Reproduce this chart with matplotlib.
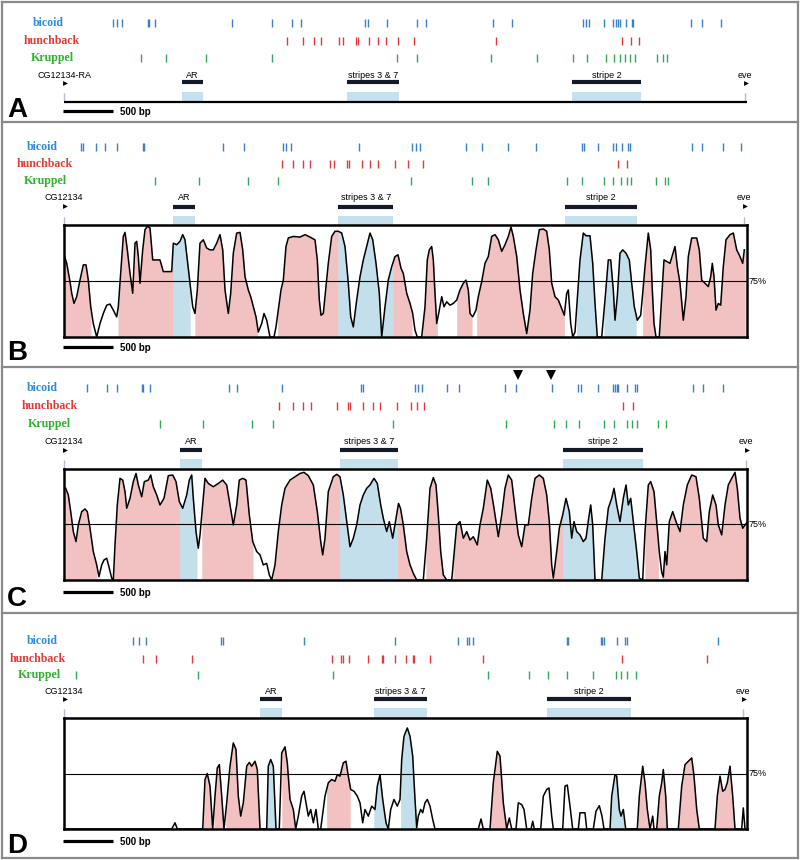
import numpy as np
import matplotlib.pyplot as plt
from matplotlib.patches import Rectangle
from matplotlib.lines import Line2D
import matplotlib.transforms as mtransforms

# all positions in bp, counted from the CG12134 start
REGION_NAMES = ["AR", "stripes 3 & 7", "stripe 2"]

A_bicoid = [493, 527, 577, 837, 850, 910, 1680, 2080, 2280, 2370, 3010, 3040, 3230, 3530, 3620,
            4290, 4480, 5190, 5220, 5250, 5400, 5490, 5520, 5540, 5560, 5620, 5680, 5690, 6270,
            6380, 6570]
A_hunchback = [2230, 2390, 2500, 2570, 2750, 2790, 2920, 2940, 3050, 3140, 3220, 3340, 3500, 4320,
               5580, 5670, 5750]
A_kruppel = [770, 1020, 1420, 2080, 3330, 3530, 4270, 4730, 5090, 5230, 5420, 5500, 5560, 5610,
             5660, 5710, 5930, 5990, 6030]
A_regions = [(1177, 1387), (2830, 3350), (5077, 5770)]
A_eve = 6810

B_bicoid = [170, 190, 320, 410, 530, 790, 800, 1590, 1800, 2190, 2220, 2270, 2950, 3480, 3520,
            3560, 4020, 4180, 4440, 4720, 5180, 5200, 5340, 5490, 5520, 5580, 5640, 5660, 6280,
            6380, 6590, 6770]
B_hunchback = [2180, 2290, 2390, 2460, 2660, 2700, 2830, 2850, 2980, 3060, 3140, 3310, 3440, 3590,
               5540, 5630]
B_kruppel = [910, 1350, 1840, 2140, 3470, 4080, 4240, 5030, 5180, 5400, 5490, 5570, 5630, 5670,
             5920, 6010, 6040]
B_regions = [(1093, 1310), (2743, 3293), (5010, 5727)]
B_eve = 6800
B_conserved = [(0, 267), (543, 1260), (1310, 1933), (2137, 3477), (3587, 3733), (3927, 4077),
               (4127, 5003), (5127, 5320), (5400, 5720), (5787, 5910), (5960, 6810)]
B_profile = [
    (0, 86.7), (27, 82.9), (60, 74.7), (77, 69.5), (100, 65.0), (127, 68.0), (160, 75.4),
    (193, 82.2), (220, 82.2), (243, 75.4), (267, 63.5), (293, 56.0), (327, 50.0), (360, 56.0),
    (393, 60.5), (427, 64.2), (460, 64.7), (493, 62.0), (527, 59.0), (543, 63.5), (560, 74.0),
    (593, 94.9), (610, 96.7), (633, 88.9), (660, 78.4), (687, 69.5), (710, 91.9), (727, 92.7),
    (743, 85.9), (760, 74.0), (787, 88.9), (810, 97.9), (833, 99.4), (860, 98.7), (887, 84.4),
    (927, 84.4), (960, 84.4), (993, 79.2), (1027, 79.2), (1077, 79.2), (1093, 91.9), (1127, 91.2),
    (1160, 92.7), (1187, 95.7), (1210, 93.4), (1233, 84.4), (1260, 74.0), (1287, 63.5),
    (1310, 60.5), (1333, 71.0), (1360, 91.9), (1393, 93.4), (1427, 89.7), (1460, 88.9),
    (1493, 88.9), (1527, 91.9), (1560, 95.7), (1587, 88.9), (1610, 71.0), (1643, 60.5),
    (1667, 69.5), (1693, 87.4), (1727, 96.4), (1760, 96.7), (1787, 88.9), (1810, 76.9),
    (1843, 71.0), (1867, 68.0), (1893, 63.5), (1920, 59.0), (1943, 52.2), (1977, 56.0),
    (2000, 60.5), (2027, 57.5), (2060, 50.0), (2100, 50.0), (2120, 54.5), (2143, 62.0),
    (2170, 71.0), (2193, 75.4), (2220, 90.4), (2243, 94.2), (2293, 94.9), (2360, 94.6),
    (2410, 95.7), (2460, 94.6), (2510, 93.4), (2533, 84.4), (2553, 66.5), (2570, 59.7),
    (2593, 60.5), (2620, 72.5), (2643, 82.9), (2677, 94.9), (2710, 97.2), (2743, 97.2),
    (2777, 96.4), (2810, 90.4), (2843, 74.0), (2867, 59.0), (2893, 54.5), (2927, 66.5),
    (2960, 76.9), (2993, 84.4), (3027, 90.4), (3060, 96.4), (3087, 93.4), (3120, 82.9),
    (3153, 69.5), (3177, 50.0), (3210, 63.5), (3243, 75.4), (3277, 81.4), (3310, 85.9),
    (3340, 86.7), (3370, 80.7), (3393, 78.4), (3427, 69.5), (3460, 65.0), (3487, 60.5),
    (3510, 53.0), (3533, 50.0), (3577, 50.0), (3610, 63.5), (3633, 84.4), (3653, 88.9),
    (3677, 90.4), (3693, 84.4), (3710, 69.5), (3727, 56.0), (3753, 62.0), (3777, 68.0),
    (3800, 63.5), (3827, 65.7), (3860, 64.2), (3893, 65.0), (3927, 66.5), (3960, 71.0),
    (3993, 74.0), (4020, 75.4), (4043, 71.0), (4060, 60.5), (4087, 59.0), (4120, 62.0),
    (4143, 68.0), (4177, 74.7), (4210, 82.9), (4243, 85.9), (4277, 94.9), (4310, 95.7),
    (4343, 93.4), (4377, 88.2), (4410, 91.2), (4443, 94.9), (4470, 99.1), (4493, 94.9),
    (4527, 85.9), (4560, 71.0), (4593, 60.5), (4627, 51.5), (4660, 62.0), (4687, 78.4),
    (4720, 88.9), (4753, 97.9), (4793, 98.2), (4827, 97.2), (4853, 88.9), (4877, 74.0),
    (4910, 68.0), (4943, 66.5), (4970, 63.5), (5003, 59.7), (5027, 69.5), (5043, 71.0),
    (5067, 56.0), (5087, 50.0), (5110, 52.2), (5137, 69.5), (5160, 84.4), (5193, 96.4),
    (5220, 95.2), (5260, 95.2), (5287, 82.9), (5310, 65.0), (5333, 50.0), (5377, 50.0),
    (5410, 66.5), (5443, 84.4), (5467, 84.4), (5493, 71.0), (5510, 57.5), (5533, 68.0),
    (5560, 87.4), (5587, 88.9), (5620, 87.4), (5653, 84.4), (5677, 74.0), (5703, 63.5),
    (5733, 57.5), (5767, 59.7), (5787, 69.5), (5810, 81.4), (5843, 96.4), (5867, 88.9),
    (5883, 71.0), (5900, 56.0), (5920, 50.0), (5953, 50.0), (5977, 68.0), (6000, 84.4),
    (6027, 83.7), (6060, 82.9), (6110, 90.4), (6133, 81.4), (6160, 74.0), (6193, 57.5),
    (6220, 68.0), (6243, 85.9), (6277, 94.2), (6327, 94.2), (6353, 88.9), (6377, 75.4),
    (6410, 74.0), (6443, 72.5), (6467, 76.9), (6483, 82.9), (6500, 76.9), (6520, 62.0),
    (6543, 65.0), (6567, 64.2), (6593, 81.4), (6620, 93.4), (6660, 95.7), (6693, 96.4),
    (6727, 88.9), (6760, 85.9), (6787, 82.9), (6803, 88.9)]

C_bicoid = [227, 427, 527, 777, 793, 860, 1653, 1733, 2177, 2970, 2987, 3510, 3543, 3577, 3827,
            3950, 4410, 4517, 4877, 5143, 5167, 5343, 5493, 5510, 5527, 5543, 5627, 5710, 5727,
            6293, 6393, 6587]
C_hunchback = [2153, 2287, 2393, 2467, 2733, 2843, 2860, 2993, 3093, 3160, 3327, 3467, 3533, 3603,
               5593, 5693]
C_kruppel = [960, 1387, 1877, 2087, 3293, 4420, 4903, 5017, 5150, 5400, 5500, 5627, 5677, 5733,
             5943, 6017]
C_regions = [(1160, 1377), (2760, 3337), (4993, 5787)]
C_eve = 6820
C_marked = [4537, 4870]
C_conserved = [(17, 327), (493, 1327), (1380, 1887), (2093, 3510), (3620, 3810), (3893, 4870),
               (4900, 5310), (5377, 5753), (5810, 5943), (5980, 6837)]
C_profile = [
    (17, 91.3), (43, 88.3), (67, 80.8), (93, 71.8), (120, 67.3), (143, 74.8), (177, 80.8),
    (210, 82.0), (233, 80.8), (260, 73.3), (293, 62.8), (327, 56.8), (350, 51.5), (377, 56.8),
    (400, 59.0), (427, 59.8), (453, 55.3), (477, 50.8), (493, 50.0), (510, 65.8), (533, 83.8),
    (560, 95.8), (587, 95.0), (610, 89.8), (627, 82.3), (660, 86.8), (693, 94.3), (720, 98.0),
    (743, 92.8), (777, 87.5), (803, 94.3), (843, 95.0), (867, 97.3), (893, 92.0), (927, 88.3),
    (960, 83.8), (1000, 86.8), (1043, 97.0), (1087, 97.3), (1120, 94.3), (1153, 85.3),
    (1187, 82.3), (1227, 88.3), (1253, 95.0), (1277, 97.3), (1293, 86.8), (1320, 71.8),
    (1343, 64.3), (1360, 70.3), (1387, 83.8), (1410, 95.8), (1443, 93.5), (1493, 92.0),
    (1543, 93.5), (1587, 95.0), (1627, 92.8), (1660, 83.8), (1693, 74.8), (1727, 83.8),
    (1753, 95.0), (1787, 95.8), (1820, 95.0), (1853, 79.3), (1887, 67.3), (1927, 62.8),
    (1960, 61.3), (1993, 56.8), (2027, 57.5), (2053, 52.3), (2077, 50.0), (2110, 56.8),
    (2143, 71.8), (2177, 83.8), (2210, 91.3), (2260, 95.0), (2310, 96.5), (2360, 98.0),
    (2400, 98.5), (2443, 97.0), (2493, 92.8), (2533, 80.8), (2567, 67.3), (2587, 61.3),
    (2610, 68.8), (2643, 89.8), (2693, 96.5), (2727, 97.6), (2760, 96.5), (2793, 88.3),
    (2827, 76.3), (2860, 65.0), (2893, 68.8), (2927, 74.8), (2960, 83.8), (2993, 88.3),
    (3027, 91.3), (3060, 92.8), (3100, 95.8), (3133, 93.5), (3167, 83.8), (3193, 77.8),
    (3227, 71.8), (3253, 76.3), (3287, 68.8), (3320, 77.8), (3345, 84.5), (3365, 82.3),
    (3393, 74.8), (3427, 62.8), (3460, 56.8), (3493, 53.0), (3527, 50.0), (3593, 50.0),
    (3627, 68.8), (3660, 91.3), (3693, 96.1), (3720, 92.8), (3743, 79.3), (3767, 62.8),
    (3793, 52.3), (3827, 50.0), (3877, 50.0), (3900, 61.3), (3927, 74.8), (3960, 76.3),
    (3993, 68.8), (4027, 71.8), (4060, 68.0), (4093, 69.5), (4133, 65.8), (4160, 74.8),
    (4193, 82.3), (4233, 95.0), (4267, 91.3), (4300, 82.3), (4343, 69.5), (4377, 79.3),
    (4410, 91.3), (4443, 97.3), (4477, 95.0), (4510, 82.3), (4543, 70.3), (4577, 65.0),
    (4610, 74.8), (4643, 74.8), (4677, 86.8), (4710, 95.8), (4753, 97.3), (4793, 95.8),
    (4827, 88.3), (4853, 76.3), (4877, 56.8), (4893, 50.8), (4927, 62.8), (4953, 73.3),
    (4987, 79.3), (5020, 86.8), (5053, 80.8), (5077, 68.8), (5100, 76.3), (5127, 71.8),
    (5160, 70.3), (5193, 67.3), (5220, 68.8), (5247, 77.8), (5267, 83.8), (5287, 74.8),
    (5310, 50.0), (5377, 50.0), (5410, 68.8), (5443, 82.3), (5477, 86.8), (5500, 91.3),
    (5527, 83.8), (5560, 76.3), (5593, 86.8), (5620, 92.8), (5643, 83.8), (5667, 86.8),
    (5693, 76.3), (5727, 62.8), (5753, 50.8), (5787, 50.0), (5810, 71.8), (5843, 92.8),
    (5867, 94.3), (5900, 89.8), (5927, 76.3), (5953, 62.8), (5977, 53.5), (5993, 51.3),
    (6010, 62.8), (6027, 56.8), (6053, 76.3), (6087, 80.8), (6120, 76.3), (6160, 71.8),
    (6193, 83.8), (6233, 92.8), (6277, 97.3), (6320, 96.5), (6353, 86.8), (6393, 68.8),
    (6427, 67.3), (6453, 80.8), (6487, 88.3), (6520, 83.8), (6543, 74.8), (6577, 70.3),
    (6610, 83.8), (6643, 92.8), (6677, 95.8), (6710, 98.5), (6733, 91.3), (6760, 77.8),
    (6787, 73.3), (6810, 74.8), (6837, 76.3)]

D_bicoid = [693, 753, 817, 1570, 1587, 2400, 3310, 3943, 4027, 4050, 4093, 5027, 5043, 5367, 5383,
            5400, 5527, 5610, 5627, 6543]
D_hunchback = [793, 920, 1283, 2677, 2767, 2787, 2850, 3043, 3177, 3193, 3310, 3420, 3487, 3503,
               3660, 4187, 5583, 6433]
D_kruppel = [117, 1343, 2693, 4243, 4653, 4843, 5027, 5293, 5520, 5570, 5627, 5717]
D_regions = [(1960, 2177), (3100, 3627), (4827, 5667)]
D_eve = 6790
D_conserved = [(1393, 1487), (1503, 1600), (1620, 1960), (2027, 2120), (2180, 2317), (2627, 2860),
               (3100, 3243), (3367, 3520), (4267, 4427), (5460, 5600), (5743, 5843), (5933, 6033),
               (6143, 6353), (6510, 6710)]
D_profile = [
    (0, 50), (1077, 50), (1110, 52.8), (1133, 50), (1387, 50), (1410, 72.3), (1433, 75.0),
    (1460, 69.3), (1487, 50), (1510, 64.8), (1533, 77.5), (1553, 79.0), (1577, 64.8), (1600, 50),
    (1627, 61.8), (1660, 78.3), (1693, 88.8), (1720, 85.8), (1743, 64.8), (1767, 55.8),
    (1793, 61.8), (1827, 78.3), (1853, 80.0), (1877, 78.3), (1910, 80.5), (1933, 76.8),
    (1960, 50), (2027, 50), (2043, 78.3), (2067, 81.3), (2093, 78.3), (2120, 50), (2153, 50),
    (2177, 84.3), (2210, 87.0), (2233, 79.8), (2260, 63.3), (2293, 58.8), (2317, 50),
    (2343, 55.8), (2377, 64.8), (2400, 67.0), (2420, 61.8), (2443, 55.8), (2467, 58.8),
    (2493, 52.8), (2520, 58.8), (2543, 50), (2567, 50), (2610, 64.8), (2643, 70.8), (2677, 72.3),
    (2710, 71.5), (2733, 74.5), (2760, 73.8), (2793, 79.8), (2820, 80.5), (2843, 73.8),
    (2867, 67.8), (2900, 67.0), (2933, 64.8), (2960, 61.8), (2987, 52.8), (3010, 58.8),
    (3043, 55.8), (3077, 60.3), (3110, 58.8), (3133, 69.3), (3160, 74.5), (3187, 63.3),
    (3220, 52.8), (3243, 50), (3267, 58.8), (3300, 63.3), (3333, 60.3), (3360, 63.3),
    (3377, 81.3), (3400, 91.8), (3433, 95.5), (3460, 91.8), (3487, 82.8), (3510, 63.3),
    (3527, 50.5), (3543, 55.8), (3567, 58.8), (3587, 57.3), (3610, 61.8), (3633, 63.3),
    (3660, 60.3), (3687, 54.3), (3710, 50), (4143, 50), (4170, 54.5), (4193, 50), (4260, 50),
    (4293, 70.8), (4333, 85.0), (4360, 82.8), (4393, 61.8), (4427, 50), (4453, 55.0), (4477, 50),
    (4520, 50), (4543, 61.8), (4577, 61.0), (4600, 58.8), (4627, 50), (4670, 50), (4687, 53.5),
    (4703, 50), (4767, 50), (4793, 64.8), (4827, 67.8), (4850, 68.5), (4877, 55.8), (4893, 50),
    (4987, 50), (5010, 69.3), (5033, 69.8), (5060, 60.3), (5087, 50), (5143, 50), (5160, 57.3),
    (5210, 57.3), (5227, 50), (5293, 50), (5320, 58.0), (5353, 60.5), (5380, 55.8), (5400, 50),
    (5460, 50), (5477, 64.8), (5510, 74.5), (5527, 73.8), (5553, 58.8), (5570, 55.8),
    (5593, 58.8), (5617, 50), (5733, 50), (5753, 64.8), (5787, 78.3), (5810, 70.8), (5833, 58.8),
    (5860, 50), (5887, 55.8), (5900, 50), (5927, 50), (5953, 64.8), (5977, 70.8), (5993, 76.8),
    (6017, 64.8), (6033, 50), (6143, 50), (6177, 69.3), (6210, 79.0), (6243, 80.5), (6277, 82.0),
    (6300, 73.8), (6327, 58.8), (6353, 50), (6510, 50), (6533, 64.8), (6560, 73.8), (6587, 67.0),
    (6610, 67.8), (6633, 70.8), (6660, 78.3), (6687, 64.8), (6710, 50), (6777, 50), (6793, 59.5),
    (6810, 50)]

# ---- styling / layout ----
W, H = 800, 860
BP0, BP_PER_PX = 64, 10          # bp 0 sits at x=64 px, 10 bp per pixel
PLOT_END = 6830
PINK, BLUE = "#f2c2c2", "#c4dfec"
BOXBLUE = "#c6e1ee"
BIC_TXT, HB_TXT, KR_TXT = "#2b8be0", "#e53b35", "#2eb22e"
BIC_TK, HB_TK, KR_TK = "#3a80c4", "#e0393b", "#33a852"
BAR = "#141b27"
SERIF = ["Liberation Serif", "DejaVu Serif"]
SANS = ["Liberation Sans", "DejaVu Sans"]

panels = {
    "A": dict(sites=(A_bicoid, A_hunchback, A_kruppel), regions=A_regions, eve=A_eve,
              gene="CG12134-RA", lab_x=(48, 52, 52), rows=(23, 41, 58), gene_y=75, bar_y=82,
              box=(92, 101), plot=None, scale_y=111, letter_y=117),
    "B": dict(sites=(B_bicoid, B_hunchback, B_kruppel), regions=B_regions, eve=B_eve,
              gene="CG12134", lab_x=(42, 45, 45), rows=(147, 164, 181), gene_y=198, bar_y=207,
              box=(216, 225), plot=(225, 337), scale_y=347, letter_y=360,
              profile=B_profile, conserved=B_conserved),
    "C": dict(sites=(C_bicoid, C_hunchback, C_kruppel), regions=C_regions, eve=C_eve,
              gene="CG12134", lab_x=(42, 50, 49), rows=(388, 406, 424), gene_y=442, bar_y=450,
              box=(459, 469), plot=(469, 580), scale_y=592, letter_y=606,
              profile=C_profile, conserved=C_conserved),
    "D": dict(sites=(D_bicoid, D_hunchback, D_kruppel), regions=D_regions, eve=D_eve,
              gene="CG12134", lab_x=(42, 38, 39), rows=(641, 659, 675), gene_y=691, bar_y=699,
              box=(708, 718), plot=(718, 829), scale_y=841, letter_y=853,
              profile=D_profile, conserved=D_conserved),
}


def bp(px):
    return (px - BP0) * BP_PER_PX


def add_ax(x0, y0, x1, y1):
    return fig.add_axes([x0 / W, 1 - y1 / H, (x1 - x0) / W, (y1 - y0) / H])


def fill_conserved(ax, prof, segs, regions):
    x, y = prof[:, 0], prof[:, 1]
    for s, e in segs:
        cuts = sorted({s, e} | {b for r in regions for b in r if s < b < e})
        for a, b in zip(cuts[:-1], cuts[1:]):
            mid = (a + b) / 2
            inside = any(r0 <= mid <= r1 for r0, r1 in regions)
            xs = np.unique(np.concatenate([[a, b], x[(x > a) & (x < b)]]))
            ax.fill_between(xs, 50, np.interp(xs, x, y), color=BLUE if inside else PINK,
                            lw=0.3, ec=BLUE if inside else PINK, zorder=1)


fig = plt.figure(figsize=(W / 100, H / 100), dpi=100)
ov = fig.add_axes([0, 0, 1, 1])
ov.set_xlim(bp(0), bp(W))
ov.set_ylim(H, 0)
ov.axis("off")

names = ["bicoid", "hunchback", "Kruppel"]
txt_cols = [BIC_TXT, HB_TXT, KR_TXT]
tk_cols = [BIC_TK, HB_TK, KR_TK]

for key, p in panels.items():
    # binding-site tracks
    for name, sites, y, lx, tc, kc in zip(names, p["sites"], p["rows"], p["lab_x"], txt_cols, tk_cols):
        ov.text(bp(lx), y, name, color=tc, family=SERIF, weight="bold", fontsize=8.6,
                ha="center", va="center")
        ov.vlines(sites, y - 4, y + 4, color=kc, lw=1.0)

    # annotated enhancers
    b0, b1 = p["box"]
    for (s, e), nm in zip(p["regions"], REGION_NAMES):
        ov.hlines(p["bar_y"], s, e, color=BAR, lw=3.0)
        ov.text((s + e) / 2, p["gene_y"], nm, family=SANS, fontsize=6.5, ha="center", va="center")
        ov.add_patch(Rectangle((s, b0), e - s, b1 - b0, color=BOXBLUE, lw=0, zorder=1))

    # gene starts
    for gx, gl in [(0, p["gene"]), (p["eve"], "eve")]:
        ov.text(gx, p["gene_y"], gl, family=SANS, fontsize=6.5, ha="center", va="center")
        ov.plot(gx + 12, p["gene_y"] + 8, marker=">", ms=3.5, color="k", mew=0)
        ov.vlines(gx, b0 + 1, b1, color="#b9b9da", lw=1.0)

    # scale bar + panel letter
    ov.hlines(p["scale_y"], -10, 490, color="k", lw=2.3)
    ov.text(560, p["scale_y"] + 1, "500 bp", family=SANS, weight="bold", fontsize=7,
            ha="left", va="center")
    ov.text(bp(7), p["letter_y"], key, family=SANS, weight="bold", fontsize=20,
            ha="left", va="baseline")

    if p["plot"] is None:
        ov.hlines(101.5, bp(64), bp(747), color="k", lw=1.6, zorder=2)
        continue

    y0, y1 = p["plot"]
    ax = add_ax(64, y0, 747, y1)
    prof = np.array(p["profile"], dtype=float)
    fill_conserved(ax, prof, p["conserved"], p["regions"])
    ax.plot(prof[:, 0], prof[:, 1], color="k", lw=1.1, zorder=3)
    ax.axhline(75, color="k", lw=0.8, zorder=2)
    ax.set_xlim(0, PLOT_END)
    ax.set_ylim(50, 100)
    ax.set_xticks([])
    ax.set_yticks([])
    for sp in ax.spines.values():
        sp.set_linewidth(1.8)
    tr = mtransforms.blended_transform_factory(ax.transAxes, ax.transData)
    ax.text(1.002, 75, "75%", transform=tr, family=SANS, fontsize=6.5, ha="left", va="center",
            clip_on=False)

# two marked bicoid sites in C
ov.plot(C_marked, [375, 375], "v", ms=7, color="k", mew=0)

# panel frames
def fline(x0, y0, x1, y1):
    fig.add_artist(Line2D([x0 / W, x1 / W], [1 - y0 / H, 1 - y1 / H], transform=fig.transFigure,
                          color="#8a8a8a", lw=1.6))

for yy in (2, 122, 367, 613, 858):
    fline(2, yy, 798, yy)
fline(2, 2, 2, 858)
fline(798, 2, 798, 858)

fig.savefig("out.png", dpi=100)
